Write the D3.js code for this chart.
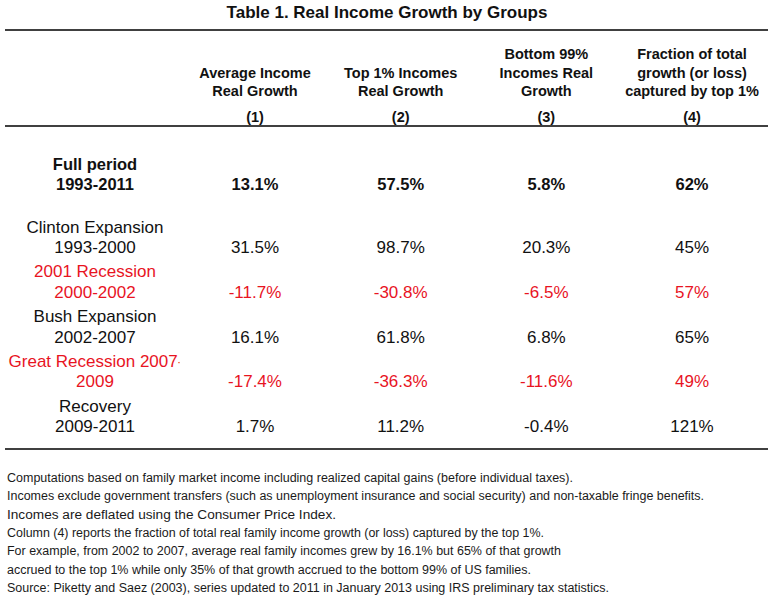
<!DOCTYPE html>
<html>
<head>
<meta charset="utf-8">
<script src="https://cdn.jsdelivr.net/npm/d3@7"></script>
<style>
  body { margin: 0; background: #fff; }
  svg { display: block; font-family: "Liberation Sans", Arial, sans-serif; }
</style>
</head>
<body>
<svg id="chart" width="768" height="604"></svg>
<script>
// table content
var title = "Table 1. Real Income Growth by Groups";
var periods = ["Full period", "Clinton Expansion", "2001 Recession", "Bush Expansion", "Great Recession 2007-", "Recovery"];
var years = ["1993-2011", "1993-2000", "2000-2002", "2002-2007", "2009", "2009-2011"];
var avgGrowth = [13.1, 31.5, -11.7, 16.1, -17.4, 1.7];
var top1Growth = [57.5, 98.7, -30.8, 61.8, -36.3, 11.2];
var bottom99Growth = [5.8, 20.3, -6.5, 6.8, -11.6, -0.4];
var top1Share = [62, 45, 57, 65, 49, 121];
var recessions = ["2001 Recession", "Great Recession 2007-"];
var headers = [
  ["Average Income", "Real Growth"],
  ["Top 1% Incomes", "Real Growth"],
  ["Bottom 99%", "Incomes Real", "Growth"],
  ["Fraction of total", "growth (or loss)", "captured by top 1%"]
];
var colNums = ["(1)", "(2)", "(3)", "(4)"];
var notes = [
  "Computations based on family market income including realized capital gains (before individual taxes).",
  "Incomes exclude government transfers (such as unemployment insurance and social security) and non-taxable fringe benefits.",
  "Incomes are deflated using the Consumer Price Index.",
  "Column (4) reports the fraction of total real family income growth (or loss) captured by the top 1%.",
  "For example, from 2002 to 2007, average real family incomes grew by 16.1% but 65% of that growth",
  "accrued to the top 1% while only 35% of that growth accrued to the bottom 99% of US families.",
  "Source: Piketty and Saez (2003), series updated to 2011 in January 2013 using IRS preliminary tax statistics."
];
var noteWidths = [566, 697, 329, 537, 554, 524, 602];

var svg = d3.select("#chart");
var red = "#e8141f", ink = "#111";

var x = d3.scalePoint().domain(d3.range(4)).range([255, 692]);
var labelX = 95;
// row index -> baseline of second line
var y = d3.scaleLinear().domain([1, 5]).range([253, 432]);
var rowY = function(i) { return i === 0 ? y(1) - 63 : y(i); };

var fmtPct = function(v) { return v.toFixed(1) + "%"; };
var fmtInt = function(v) { return v + "%"; };

svg.append("text")
  .attr("x", 387).attr("y", 18)
  .attr("text-anchor", "middle")
  .attr("font-size", 17).attr("font-weight", "bold").attr("fill", ink)
  .text(title);

// rules
svg.selectAll("line.rule")
  .data([30, 126, 449])
  .enter().append("line")
  .attr("class", "rule")
  .attr("x1", 5).attr("x2", 768)
  .attr("y1", function(d) { return d; }).attr("y2", function(d) { return d; })
  .attr("stroke", "#000").attr("stroke-width", 1.6);

// column headers
var head = svg.selectAll("g.head")
  .data(headers)
  .enter().append("g")
  .attr("class", "head")
  .attr("transform", function(d, i) { return "translate(" + x(i) + ",0)"; });

head.selectAll("text")
  .data(function(d) { return d.map(function(t, j) { return { t: t, k: d.length - 1 - j }; }); })
  .enter().append("text")
  .attr("y", function(d) { return 96 - d.k * 18.5; })
  .attr("text-anchor", "middle")
  .attr("font-size", 14.5).attr("font-weight", "bold").attr("fill", ink)
  .text(function(d) { return d.t; });

head.append("text")
  .attr("y", 122)
  .attr("text-anchor", "middle")
  .attr("font-size", 14.5).attr("font-weight", "bold").attr("fill", ink)
  .text(function(d, i) { return colNums[i]; });

// label column is cut off at its cell edge
svg.append("clipPath").attr("id", "labclip")
  .append("rect").attr("x", 0).attr("y", 130).attr("width", 179.5).attr("height", 310);

var rows = periods.map(function(p, i) {
  return {
    period: p, year: years[i],
    vals: [fmtPct(avgGrowth[i]), fmtPct(top1Growth[i]), fmtPct(bottom99Growth[i]), fmtInt(top1Share[i])],
    color: recessions.indexOf(p) >= 0 ? red : ink,
    bold: i === 0,
    i: i
  };
});

var row = svg.selectAll("g.row")
  .data(rows)
  .enter().append("g")
  .attr("class", "row")
  .attr("transform", function(d) { return "translate(0," + rowY(d.i) + ")"; })
  .attr("fill", function(d) { return d.color; })
  .attr("font-weight", function(d) { return d.bold ? "bold" : "normal"; })
  .attr("font-size", function(d) { return d.bold ? 16.5 : 17; });

var lab = row.append("g").attr("clip-path", "url(#labclip)")
  .attr("transform", function(d) { return "translate(0," + (-rowY(d.i)) + ")"; })
  .append("g")
  .attr("transform", function(d) { return "translate(0," + rowY(d.i) + ")"; });

lab.append("text")
  .attr("x", function(d) { return d.period.length > 18 ? labelX + 1 : labelX; })
  .attr("y", function(d) { return d.bold ? -20 : -20.5; })
  .attr("text-anchor", "middle")
  .text(function(d) { return d.period; });

lab.append("text")
  .attr("x", labelX)
  .attr("text-anchor", "middle")
  .text(function(d) { return d.year; });

row.selectAll("text.val")
  .data(function(d) { return d.vals; })
  .enter().append("text")
  .attr("class", "val")
  .attr("x", function(d, j) { return x(j); })
  .attr("text-anchor", "middle")
  .text(function(d) { return d; });

// footnotes
var noteY = d3.scaleLinear().domain([0, notes.length - 1]).range([482, 592]);
svg.selectAll("text.note")
  .data(notes)
  .enter().append("text")
  .attr("class", "note")
  .attr("x", 7)
  .attr("y", function(d, i) { return noteY(i); })
  .attr("font-size", 12.5).attr("fill", "#1a1a1a")
  .attr("font-family", "'Liberation Sans Narrow', 'Liberation Sans', Arial, sans-serif")
  .attr("textLength", function(d, i) { return noteWidths[i]; })
  .attr("lengthAdjust", "spacingAndGlyphs")
  .text(function(d) { return d; });
</script>
</body>
</html>
